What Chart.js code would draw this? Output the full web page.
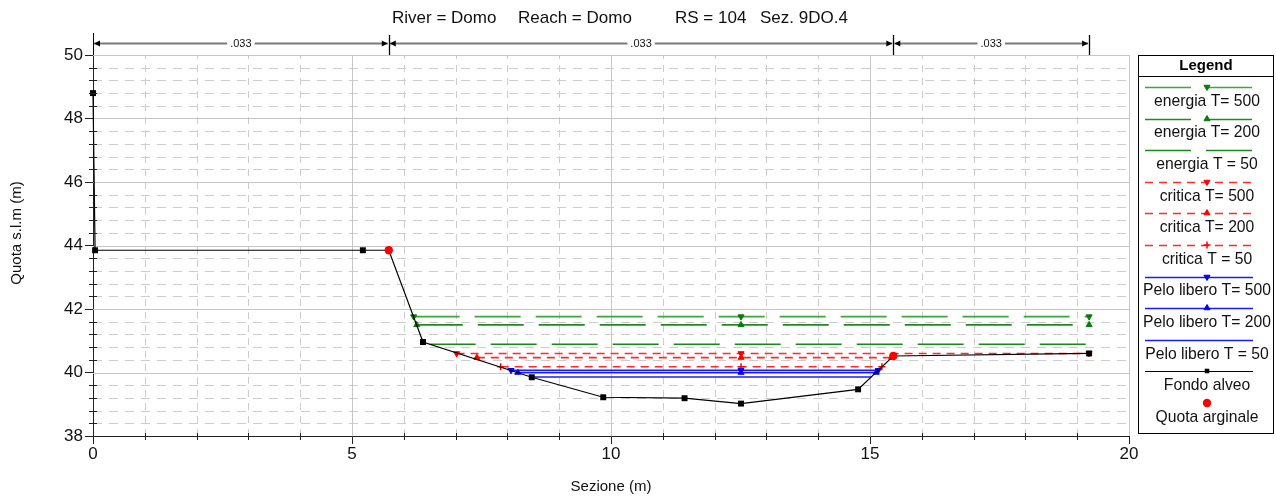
<!DOCTYPE html>
<html>
<head>
<meta charset="utf-8">
<title>Sez. 9DO.4</title>
<script src="https://cdn.jsdelivr.net/npm/chart.js@4.4.1/dist/chart.umd.min.js"></script>
<style>
  html, body { margin: 0; padding: 0; background: #ffffff; }
  canvas { display: block; }
</style>
</head>
<body>
<canvas id="section" width="1276" height="501"></canvas>
<script>
const FONT = "'Liberation Sans', Arial, Helvetica, sans-serif";

// Ground profile of the cross section (station m, elevation m a.s.l.)
const groundStation = [0, 0.04, 5.21, 5.71, 6.37, 8.47, 9.85, 11.42, 12.51, 14.77, 15.45, 19.23];
const groundElev    = [48.80, 43.85, 43.85, 43.85, 40.96, 39.85, 39.22, 39.19, 39.02, 39.47, 40.52, 40.60];

// Levee tops (bank stations)
const bankStation = [5.71, 15.45];
const bankElev    = [43.85, 40.52];

// Manning's n zones along the section
const nBreaks = [0, 5.71, 15.45, 19.23];
const nValues = ['.033', '.033', '.033'];

// Computed profiles: level and wetted extent
const wsNames  = ['energia T= 500', 'energia T= 200', 'energia T = 50',
                  'critica T= 500', 'critica T= 200', 'critica T = 50',
                  'Pelo libero T= 500', 'Pelo libero T= 200', 'Pelo libero T = 50'];
const wsLevel  = [41.76, 41.50, 40.89, 40.60, 40.47, 40.18, 40.07, 40.00, 39.86];
const wsLeft   = [6.19, 6.25, 6.50, 7.02, 7.41, 7.87, 8.07, 8.20, 8.47];
const wsRight  = [19.23, 19.23, 19.23, 19.23, 15.42, 15.23, 15.16, 15.12, 15.03];
const wsMarkerStation = 12.51;

// Axis ranges and tick spacing
const xRange = [0, 20];
const yRange = [38, 50];
const xMajor = 5, xMinor = 1;
const yMajor = 2, yMinor = 0.4;

// Title pieces
const titleParts = ['River = Domo', 'Reach = Domo', 'RS = 104', 'Sez. 9DO.4'];
const xTitle = 'Sezione (m)';
const yTitle = 'Quota s.l.m (m)';

// Line / marker styles of each profile
const wsStyle = [
  { color: '#3aa93a', width: 1.6, dash: [46, 15], marker: 'triangle', rot: 180, mcolor: '#0a7a0a', r: 3.5, order: 6 },
  { color: '#1f8a1f', width: 1.6, dash: [46, 15], marker: 'triangle', rot: 0,   mcolor: '#0a7a0a', r: 3.5, order: 6 },
  { color: '#188818', width: 1.6, dash: [46, 15], marker: false,      rot: 0,   mcolor: '#188818', r: 0,   order: 6 },
  { color: '#ff2a2a', width: 1.6, dash: [8, 6],   marker: 'triangle', rot: 180, mcolor: '#ff0000', r: 3.5, order: 5 },
  { color: '#ff2a2a', width: 1.6, dash: [8, 6],   marker: 'triangle', rot: 0,   mcolor: '#ff0000', r: 3.5, order: 5 },
  { color: '#ff2a2a', width: 1.6, dash: [8, 6],   marker: 'cross',    rot: 0,   mcolor: '#ff0000', r: 3.5, order: 5 },
  { color: '#1a1aff', width: 1.6, dash: [],       marker: 'triangle', rot: 180, mcolor: '#0000ff', r: 3.5, order: 4 },
  { color: '#1a1aff', width: 1.6, dash: [],       marker: 'triangle', rot: 0,   mcolor: '#0000ff', r: 3.5, order: 4 },
  { color: '#1a1aff', width: 1.6, dash: [],       marker: false,      rot: 0,   mcolor: '#0000ff', r: 0,   order: 4 }
];

const profileSets = wsNames.map((name, i) => {
  const s = wsStyle[i];
  return {
    label: name,
    data: [
      { x: wsLeft[i], y: wsLevel[i] },
      { x: wsMarkerStation, y: wsLevel[i] },
      { x: wsRight[i], y: wsLevel[i] }
    ],
    borderColor: s.color,
    borderWidth: s.width,
    borderDash: s.dash,
    pointStyle: s.marker,
    pointRadius: s.r,
    pointRotation: s.rot,
    pointBackgroundColor: s.mcolor,
    pointBorderColor: s.mcolor,
    pointBorderWidth: s.marker === 'cross' ? 1.5 : 1,
    order: s.order
  };
});

const groundSet = {
  label: 'Fondo alveo',
  data: groundStation.map((st, i) => ({ x: st, y: groundElev[i] })),
  borderColor: '#000000',
  borderWidth: 1.2,
  pointStyle: 'rect',
  pointRadius: 4.2,
  pointBackgroundColor: '#000000',
  pointBorderColor: '#000000',
  pointBorderWidth: 0,
  clip: false,
  order: 1
};

const bankSet = {
  label: 'Quota arginale',
  data: bankStation.map((st, i) => ({ x: st, y: bankElev[i] })),
  showLine: false,
  pointStyle: 'circle',
  pointRadius: 4.2,
  pointBackgroundColor: '#ff0000',
  pointBorderColor: '#ff0000',
  pointBorderWidth: 0,
  borderColor: '#ff0000',
  clip: false,
  order: 0
};

const crisp = v => Math.round(v) + 0.5;

// Grid, minor ticks, roughness bar, titles and legend box
const sectionFrame = {
  id: 'sectionFrame',
  beforeDatasetsDraw(chart) {
    const { ctx, chartArea: a, scales: { x, y } } = chart;
    ctx.save();
    ctx.lineWidth = 1;

    // minor dashed grid
    ctx.strokeStyle = '#cdcdcd';
    ctx.setLineDash([9, 7]);
    const ny = Math.round((yRange[1] - yRange[0]) / yMinor);
    for (let k = 1; k < ny; k++) {
      if (k % Math.round(yMajor / yMinor) === 0) continue;
      const py = crisp(y.getPixelForValue(yRange[0] + k * yMinor));
      ctx.beginPath(); ctx.moveTo(a.left, py); ctx.lineTo(a.right, py); ctx.stroke();
    }
    ctx.setLineDash([7, 6]);
    const nx = Math.round((xRange[1] - xRange[0]) / xMinor);
    for (let k = 1; k < nx; k++) {
      if (k % Math.round(xMajor / xMinor) === 0) continue;
      const px = crisp(x.getPixelForValue(xRange[0] + k * xMinor));
      ctx.beginPath(); ctx.moveTo(px, a.bottom); ctx.lineTo(px, a.top); ctx.stroke();
    }

    // major solid grid
    ctx.setLineDash([]);
    ctx.strokeStyle = '#c6c6c6';
    y.ticks.forEach(t => {
      if (t.value === yRange[0]) return;
      const py = crisp(y.getPixelForValue(t.value));
      ctx.beginPath(); ctx.moveTo(a.left, py); ctx.lineTo(a.right, py); ctx.stroke();
    });
    x.ticks.forEach(t => {
      if (t.value === xRange[0]) return;
      const px = crisp(x.getPixelForValue(t.value));
      ctx.beginPath(); ctx.moveTo(px, a.bottom); ctx.lineTo(px, a.top); ctx.stroke();
    });
    ctx.restore();
  },

  afterDatasetsDraw(chart) {
    const { ctx, chartArea: a, scales: { x, y } } = chart;
    ctx.save();
    ctx.strokeStyle = '#222222';
    ctx.lineWidth = 1;

    // minor tick marks across the axes
    const ny = Math.round((yRange[1] - yRange[0]) / yMinor);
    for (let k = 1; k < ny; k++) {
      if (k % Math.round(yMajor / yMinor) === 0) continue;
      const py = crisp(y.getPixelForValue(yRange[0] + k * yMinor));
      ctx.beginPath(); ctx.moveTo(a.left - 4, py); ctx.lineTo(a.left + 4, py); ctx.stroke();
    }
    const nx = Math.round((xRange[1] - xRange[0]) / xMinor);
    for (let k = 1; k < nx; k++) {
      if (k % Math.round(xMajor / xMinor) === 0) continue;
      const px = crisp(x.getPixelForValue(xRange[0] + k * xMinor));
      ctx.beginPath(); ctx.moveTo(px, a.bottom - 3); ctx.lineTo(px, a.bottom + 4); ctx.stroke();
    }

    // roughness zones bar above the plot
    const barY = 43.5;
    ctx.font = '11px ' + FONT;
    ctx.textAlign = 'center';
    ctx.textBaseline = 'middle';
    nBreaks.forEach((b, i) => {
      const px = crisp(x.getPixelForValue(b));
      ctx.strokeStyle = '#000000';
      ctx.lineWidth = i === 0 ? 1 : 1.3;
      ctx.beginPath(); ctx.moveTo(px, i === 0 ? 33 : 35); ctx.lineTo(px, a.top); ctx.stroke();
    });
    for (let i = 0; i < nValues.length; i++) {
      const x1 = x.getPixelForValue(nBreaks[i]) + 1;
      const x2 = x.getPixelForValue(nBreaks[i + 1]) - 1;
      const mid = (x1 + x2) / 2;
      const half = ctx.measureText(nValues[i]).width / 2 + 3;
      ctx.strokeStyle = '#7a7a7a';
      ctx.lineWidth = 1.8;
      ctx.beginPath();
      ctx.moveTo(x1, barY); ctx.lineTo(mid - half, barY);
      ctx.moveTo(mid + half, barY); ctx.lineTo(x2, barY);
      ctx.stroke();
      ctx.fillStyle = '#000000';
      ctx.beginPath();
      ctx.moveTo(x1, barY); ctx.lineTo(x1 + 6, barY - 3); ctx.lineTo(x1 + 6, barY + 3); ctx.closePath();
      ctx.moveTo(x2, barY); ctx.lineTo(x2 - 6, barY - 3); ctx.lineTo(x2 - 6, barY + 3); ctx.closePath();
      ctx.fill();
      ctx.fillStyle = '#111111';
      ctx.fillText(nValues[i], mid, barY + 0.5);
    }
    ctx.restore();
  },

  afterDraw(chart) {
    const { ctx, chartArea: a } = chart;
    ctx.save();
    ctx.fillStyle = '#111111';

    // title
    ctx.font = '17px ' + FONT;
    ctx.textAlign = 'left';
    ctx.textBaseline = 'alphabetic';
    const titleX = [392, 518, 675, 760];
    titleParts.forEach((t, i) => ctx.fillText(t, titleX[i], 23));

    // axis titles
    ctx.font = '15px ' + FONT;
    ctx.textAlign = 'center';
    ctx.textBaseline = 'middle';
    ctx.fillText(xTitle, (a.left + a.right) / 2, 487);
    ctx.save();
    ctx.translate(17, 233);
    ctx.rotate(-Math.PI / 2);
    ctx.fillText(yTitle, 0, 0);
    ctx.restore();

    // legend box
    const L = 1138, T = 55, R = 1274, B = 433;
    ctx.strokeStyle = '#000000';
    ctx.lineWidth = 1;
    ctx.strokeRect(L + 0.5, T + 0.5, R - L - 1, B - T);
    ctx.beginPath(); ctx.moveTo(L, 76.5); ctx.lineTo(R, 76.5); ctx.stroke();
    ctx.font = 'bold 15px ' + FONT;
    ctx.fillStyle = '#000000';
    ctx.fillText('Legend', (L + R) / 2, 66);

    const legendOrder = [...profileSets, groundSet, bankSet];
    ctx.font = '15.7px ' + FONT;
    legendOrder.forEach((ds, k) => {
      const ly = 87 + k * 31.6;
      if (ds.showLine !== false) {
        ctx.save();
        ctx.strokeStyle = ds.borderColor;
        ctx.lineWidth = ds.borderWidth;
        ctx.setLineDash(ds.borderDash || []);
        ctx.beginPath(); ctx.moveTo(1145, crisp(ly)); ctx.lineTo(1253, crisp(ly)); ctx.stroke();
        ctx.restore();
      }
      if (ds.pointStyle && ds.pointRadius > 0) {
        ctx.save();
        ctx.fillStyle = ds.pointBackgroundColor;
        ctx.strokeStyle = ds.pointBorderColor;
        ctx.lineWidth = ds.pointBorderWidth;
        const r = ds === groundSet ? 3.2 : ds.pointRadius;
        Chart.helpers.drawPoint(ctx, {
          pointStyle: ds.pointStyle,
          radius: r,
          rotation: ds.pointRotation || 0,
          borderWidth: ds.pointBorderWidth
        }, 1207, crisp(ly) - 0.5);
        ctx.restore();
      }
      ctx.fillStyle = '#111111';
      ctx.fillText(ds.label, (L + R) / 2 + 1, ly + 14.5);
    });
    ctx.restore();
  }
};

new Chart(document.getElementById('section'), {
  type: 'line',
  data: { datasets: [bankSet, groundSet, ...profileSets] },
  options: {
    responsive: false,
    animation: false,
    devicePixelRatio: 1,
    events: [],
    layout: { padding: { top: 55, right: 147, left: 0, bottom: 0 } },
    elements: { line: { tension: 0 } },
    plugins: { legend: { display: false }, tooltip: { enabled: false }, title: { display: false } },
    scales: {
      x: {
        type: 'linear',
        min: xRange[0], max: xRange[1],
        ticks: { stepSize: xMajor, color: '#111111', font: { family: FONT, size: 17 }, padding: 0, maxRotation: 0 },
        grid: { drawOnChartArea: false, drawTicks: true, tickLength: 8, tickColor: '#222222', tickWidth: 1 },
        border: { display: true, color: '#222222', width: 1 },
        afterFit(s) { s.height = 65; }
      },
      y: {
        type: 'linear',
        min: yRange[0], max: yRange[1],
        ticks: { stepSize: yMajor, color: '#111111', font: { family: FONT, size: 17 }, padding: 2 },
        grid: { drawOnChartArea: false, drawTicks: true, tickLength: 8, tickColor: '#222222', tickWidth: 1 },
        border: { display: true, color: '#222222', width: 1 },
        afterFit(s) { s.width = 93; }
      }
    }
  },
  plugins: [sectionFrame]
});
</script>
</body>
</html>
